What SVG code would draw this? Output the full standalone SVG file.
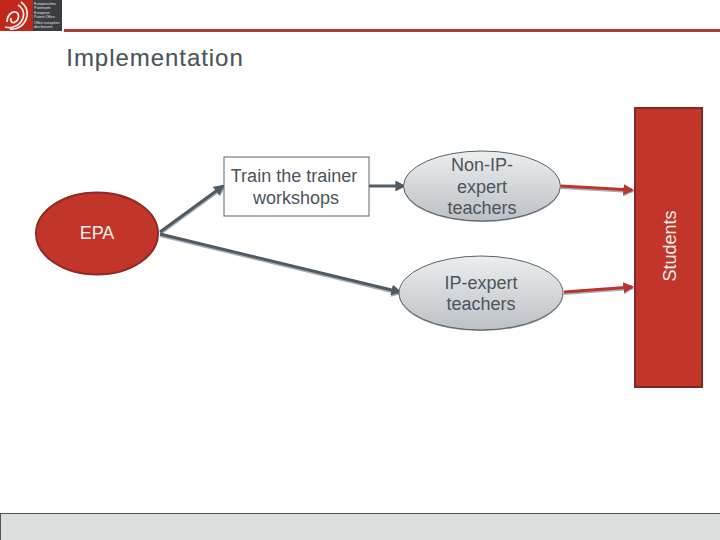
<svg xmlns="http://www.w3.org/2000/svg" width="720" height="540" viewBox="0 0 720 540">
<defs>
<linearGradient id="g" x1="0" y1="0" x2="0" y2="1"><stop offset="0" stop-color="#eceeef"/><stop offset="1" stop-color="#bcc1c5"/></linearGradient>
<marker id="ad" viewBox="0 0 10 10" refX="8" refY="5" markerWidth="3.600" markerHeight="3.600" orient="auto"><path d="M0 0L10 5L0 10z" fill="#4f5a63"/></marker>
<marker id="ar" viewBox="0 0 10 10" refX="8" refY="5" markerWidth="3.600" markerHeight="3.600" orient="auto"><path d="M0 0L10 5L0 10z" fill="#b9352b"/></marker>
<marker id="as" viewBox="0 0 10 10" refX="8" refY="5" markerWidth="3.600" markerHeight="3.600" orient="auto"><path d="M0 0L10 5L0 10z" fill="#a9adb0"/></marker>
</defs>
<style>
text{font-family:"Liberation Sans",Arial,sans-serif;text-anchor:middle}
.d{fill:#4b555d;font-size:18px}
.w{fill:#f4eeea;font-size:18px}
.o{fill:url(#g);stroke:#5a646b;stroke-width:1}
.os{fill:#8b9297}
.cd{fill:none;stroke:#4f5a63;stroke-width:3;marker-end:url(#ad)}
.cr{fill:none;stroke:#b9352b;stroke-width:3;marker-end:url(#ar)}
.cs{fill:none;stroke:#a9adb0;stroke-width:3;marker-end:url(#as)}
.l{fill:#e4e4e4;font-size:3.6px;text-anchor:start}
</style>
<rect width="720" height="540" fill="#fff"/>
<g id="logo">
<rect x="0" y="0" width="62" height="31" fill="#3a3e40"/>
<rect x="0" y="0" width="33" height="31" fill="#c1271a"/>
<g fill="none" stroke="#f6ebe6" stroke-width="1.800">
<path d="M7 22C7 15 12 11 16 12C20 14 19 20 15 22C12 24 10 21 11 18"/>
<path d="M5 27C12 29 20 26 23 18C25 12 22 7 18 5"/>
<path d="M10 29C18 30 25 25 27 16C28 10 25 5 21 2"/>
</g>
<text class="l" x="34" y="5">Europäisches</text><text class="l" x="34" y="9">Patentamt</text>
<text class="l" x="34" y="14">European</text><text class="l" x="34" y="18">Patent Office</text>
<text class="l" x="34" y="24">Office européen</text><text class="l" x="34" y="28">des brevets</text>
</g>
<rect id="header-rule" x="64" y="29" width="656" height="3" fill="#a83f3a"/>
<text id="title" x="155" y="66" fill="#4b555d" stroke="#4b555d" stroke-width=".15" style="font-size:24px;letter-spacing:.95px">Implementation</text>
<g id="connectors">
<path class="cs" d="M161 233L224 187"/>
<path class="cs" d="M160 235.500L400 293.500"/>
<path class="cs" d="M561 187.500L632 191.500"/>
<path class="cs" d="M564 293.500L632 288.500"/>
<path class="cd" d="M160 232L223 186"/>
<path class="cd" d="M160 234L400 292"/>
<path class="cd" d="M369 186L404 186"/>
<path class="cr" d="M561 186L632 190"/>
<path class="cr" d="M564 292L632 287"/>
</g>
<g id="epa"><ellipse cx="97" cy="233.500" rx="61" ry="41" fill="#c1352a" stroke="#8f2a24" stroke-width="2"/><text class="w" x="97" y="239">EPA</text></g>
<g id="train"><rect x="224" y="157" width="145" height="59" fill="#fff" stroke="#5a646b" stroke-width="1"/><text class="d" x="294" y="182">Train the trainer</text><text class="d" x="296" y="204">workshops</text></g>
<g id="non-ip"><ellipse cx="482" cy="187" rx="78.500" ry="35" class="os"/><ellipse cx="482" cy="186" rx="78.500" ry="35" class="o"/><text class="d" x="482" y="171">Non-IP-</text><text class="d" x="482" y="193">expert</text><text class="d" x="482" y="214">teachers</text></g>
<g id="ip"><ellipse cx="481" cy="294" rx="82" ry="37" class="os"/><ellipse cx="481" cy="293" rx="82" ry="37" class="o"/><text class="d" x="481" y="289">IP-expert</text><text class="d" x="481" y="310">teachers</text></g>
<g id="students"><rect x="635" y="108" width="67" height="279" fill="#c1352a" stroke="#7e2a26" stroke-width="2"/><text class="w" transform="translate(676 246) rotate(-90)">Students</text></g>
<rect id="footer" x="0.500" y="513.500" width="720" height="27" fill="#dcdddd" stroke="#4b555d" stroke-width="1"/>
</svg>
